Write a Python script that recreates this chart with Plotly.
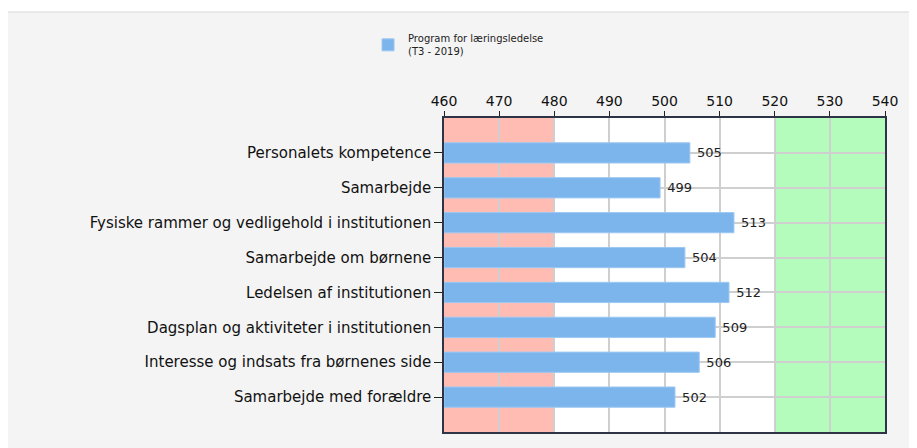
import plotly.graph_objects as go

categories = [
    "Personalets kompetence",
    "Samarbejde",
    "Fysiske rammer og vedligehold i institutionen",
    "Samarbejde om børnene",
    "Ledelsen af institutionen",
    "Dagsplan og aktiviteter i institutionen",
    "Interesse og indsats fra børnenes side",
    "Samarbejde med forældre",
]
values = [504.6, 499.2, 512.6, 503.7, 511.7, 509.2, 506.3, 501.9]
series_name = "Program for læringsledelse<br>(T3 - 2019)"
x_ticks = [460, 470, 480, 490, 500, 510, 520, 530, 540]
low_band = [460, 480]
high_band = [520, 540]

FONT = "DejaVu Sans, Verdana, sans-serif"

fig = go.Figure()
fig.add_trace(go.Bar(
    y=categories,
    x=[v - x_ticks[0] for v in values],
    base=x_ticks[0],
    orientation="h",
    name=series_name,
    marker=dict(color="#7cb4ec", line=dict(color="#9cc8f2", width=1)),
    width=0.58,
    text=[f"{round(v)}" for v in values],
    texttemplate=" %{text}",
    textposition="outside",
    textfont=dict(family=FONT, size=13, color="#222"),
    cliponaxis=False,
    showlegend=True,
))

shapes = [
    # grey panel behind everything
    dict(type="rect", xref="paper", yref="paper", x0=-0.993, x1=1.2, y0=-0.2, y1=1.3376,
         fillcolor="#f4f4f4", line=dict(color="#d8d8d8", width=1), layer="below"),
    dict(type="rect", xref="x", yref="paper", x0=x_ticks[0], x1=x_ticks[-1], y0=0, y1=1,
         fillcolor="white", line=dict(width=0), layer="below"),
    dict(type="rect", xref="x", yref="paper", x0=low_band[0], x1=low_band[1], y0=0, y1=1,
         fillcolor="#ffbcb3", line=dict(width=0), layer="below"),
    dict(type="rect", xref="x", yref="paper", x0=high_band[0], x1=high_band[1], y0=0, y1=1,
         fillcolor="#b4fcbb", line=dict(width=0), layer="below"),
]

fig.update_layout(
    width=917,
    height=448,
    margin=dict(l=436, r=40, t=110, b=24),
    paper_bgcolor="white",
    plot_bgcolor="rgba(0,0,0,0)",
    shapes=shapes,
    font=dict(family=FONT, color="#111"),
    legend=dict(
        x=-0.1723, y=1.295, xanchor="left", yanchor="top",
        bgcolor="rgba(0,0,0,0)",
        font=dict(size=10, color="#222"),
    ),
    xaxis=dict(
        range=[x_ticks[0], x_ticks[-1]],
        tickvals=x_ticks,
        side="top",
        ticks="outside",
        ticklen=5,
        tickcolor="#222",
        tickfont=dict(size=14),
        showgrid=True,
        gridcolor="#cfcfcf",
        gridwidth=1.5,
        showline=True,
        linecolor="#2e3446",
        linewidth=1.5,
        mirror=True,
        zeroline=False,
    ),
    yaxis=dict(
        categoryorder="array",
        categoryarray=categories[::-1],
        range=[-1, len(categories)],
        ticks="outside",
        ticklen=8,
        tickcolor="#222",
        tickfont=dict(size=15),
        showgrid=True,
        gridcolor="#cfcfcf",
        gridwidth=1.5,
        showline=True,
        linecolor="#2e3446",
        linewidth=1.5,
        mirror=True,
        zeroline=False,
    ),
)

fig.write_html("out.html")
